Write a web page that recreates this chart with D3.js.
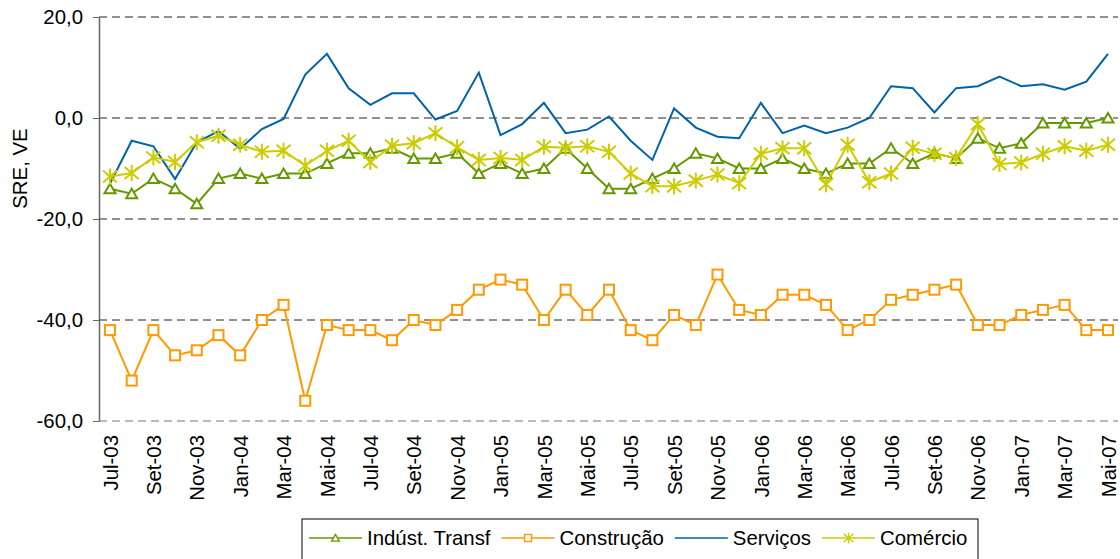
<!DOCTYPE html>
<html>
<head>
<meta charset="utf-8">
<script src="https://cdn.jsdelivr.net/npm/d3@7"></script>
<style>
  body { margin: 0; background: #fff; }
  svg text { font-family: "Liberation Sans", Arial, sans-serif; font-size: 20.4px; fill: #000; }
</style>
</head>
<body>
<div id="chart"></div>
<script>
// Monthly categories, Jul-03 .. Mai-07
var months = ['Jul-03','Ago-03','Set-03','Out-03','Nov-03','Dez-03',
  'Jan-04','Fev-04','Mar-04','Abr-04','Mai-04','Jun-04','Jul-04','Ago-04','Set-04','Out-04','Nov-04','Dez-04',
  'Jan-05','Fev-05','Mar-05','Abr-05','Mai-05','Jun-05','Jul-05','Ago-05','Set-05','Out-05','Nov-05','Dez-05',
  'Jan-06','Fev-06','Mar-06','Abr-06','Mai-06','Jun-06','Jul-06','Ago-06','Set-06','Out-06','Nov-06','Dez-06',
  'Jan-07','Fev-07','Mar-07','Abr-07','Mai-07'];

var industria = [-14,-15,-12,-14,-17,-12,-11,-12,-11,-11,-9,-7,-7,-6,-8,-8,
  -7,-11,-9,-11,-10,-6,-10,-14,-14,-12,-10,-7,-8,-10,-10,-8,
  -10,-11,-9,-9,-6,-9,-7,-8,-4,-6,-5,-1,-1,-1,0];

var construcao = [-42,-52,-42,-47,-46,-43,-47,-40,-37,-56,-41,-42,-42,-44,-40,-41,
  -38,-34,-32,-33,-40,-34,-39,-34,-42,-44,-39,-41,-31,-38,-39,-35,
  -35,-37,-42,-40,-36,-35,-34,-33,-41,-41,-39,-38,-37,-42,-42];

var servicos = [-13,-4.5,-5.6,-12.1,-4.8,-2.6,-6.1,-2.2,-0.2,8.6,12.7,5.9,2.6,4.9,4.9,-0.3,
  1.4,9.0,-3.4,-1.2,3.0,-3.0,-2.3,0.3,-4.5,-8.3,1.9,-1.9,-3.7,-4.0,3.0,-3.0,
  -1.5,-3.0,-1.9,0,6.3,5.9,1.1,5.9,6.3,8.2,6.3,6.7,5.6,7.2,12.7];

var comercio = [-11.6,-10.9,-7.8,-8.7,-4.8,-3.5,-5.3,-6.7,-6.5,-9.4,-6.5,-4.5,-8.7,-5.5,-5.0,-3.0,
  -5.8,-8.3,-7.9,-8.3,-5.7,-5.9,-5.6,-6.7,-11.0,-13.5,-13.5,-12.4,-11.2,-12.9,-7.1,-6.0,
  -6.0,-13.1,-5.3,-12.7,-11.0,-5.9,-7.1,-7.9,-1.2,-9.1,-8.8,-7.1,-5.6,-6.5,-5.3];

var yTicks = [-60,-40,-20,0,20];
var seriesNames = ['Indúst. Transf','Construção','Serviços','Comércio'];

var series = [
  {name: seriesNames[0], values: industria, color: '#669900', marker: 'triangle'},
  {name: seriesNames[1], values: construcao, color: '#ff9900', marker: 'square'},
  {name: seriesNames[2], values: servicos, color: '#0063a6', marker: 'none'},
  {name: seriesNames[3], values: comercio, color: '#cccc00', marker: 'star'}
];

var W = 1120, H = 559;
var svg = d3.select('#chart').append('svg')
  .attr('width', W).attr('height', H);

var x = d3.scalePoint().domain(months).range([110, 1108]);
var y = d3.scaleLinear().domain([-60, 20]).range([421, 17]);

// Portuguese style: comma decimal, plain hyphen minus
var fmt = function(d) { return d.toFixed(1).replace('.', ','); };

// Gridlines
svg.append('g').selectAll('line')
  .data(yTicks)
  .enter().append('line')
  .attr('x1', 99).attr('x2', 1118)
  .attr('y1', function(d) { return y(d); })
  .attr('y2', function(d) { return y(d); })
  .attr('stroke', function(d) { return d === -60 ? '#777' : '#222'; })
  .attr('stroke-width', 1)
  .attr('stroke-dasharray', '8,5');

// Y axis
var yAxis = d3.axisLeft(y).tickValues(yTicks).tickFormat(fmt)
  .tickSizeInner(6).tickSizeOuter(0).tickPadding(10);
var gy = svg.append('g').attr('transform', 'translate(99,0)').call(yAxis);
gy.attr('font-size', null).attr('font-family', null);
gy.select('.domain').attr('stroke', '#666').attr('stroke-width', 1.5);
gy.selectAll('.tick line').attr('stroke', '#666');

svg.append('text')
  .attr('transform', 'translate(20,' + y(-10) + ') rotate(-90)')
  .attr('text-anchor', 'middle')
  .attr('dy', '0.35em')
  .text('SRE, VE');

// X axis (labels every two months)
var xAxis = d3.axisBottom(x)
  .tickValues(months.filter(function(d, i) { return i % 2 === 0; }))
  .tickSize(0);
var gx = svg.append('g').attr('transform', 'translate(0,' + 428 + ')').call(xAxis);
gx.attr('font-size', null).attr('font-family', null);
gx.select('.domain').remove();
gx.selectAll('text')
  .attr('text-anchor', 'end')
  .attr('transform', 'rotate(-90)')
  .attr('x', -7).attr('y', 0).attr('dy', '0.35em');

// Marker drawing helper
function drawMarker(sel, type, color) {
  if (type === 'triangle') {
    sel.append('path').attr('d', 'M0,-5L5.5,4.5L-5.5,4.5Z')
      .attr('fill', '#fff').attr('stroke', color).attr('stroke-width', 2);
  } else if (type === 'square') {
    sel.append('rect').attr('x', -5).attr('y', -5).attr('width', 10).attr('height', 10)
      .attr('fill', '#fff').attr('stroke', color).attr('stroke-width', 2);
  } else if (type === 'star') {
    sel.append('path').attr('d', 'M0,-8L0,8M-7,-6L7,6M-7,6L7,-6')
      .attr('fill', 'none').attr('stroke', color).attr('stroke-width', 2);
  }
}

var line = d3.line()
  .x(function(d, i) { return x(months[i]); })
  .y(function(d) { return y(d); });

series.forEach(function(s) {
  var g = svg.append('g');
  g.append('path')
    .attr('d', line(s.values))
    .attr('fill', 'none')
    .attr('stroke', s.color)
    .attr('stroke-width', 2);
  if (s.marker !== 'none') {
    g.selectAll('.m').data(s.values).enter().append('g')
      .attr('class', 'm')
      .attr('transform', function(d, i) { return 'translate(' + x(months[i]) + ',' + y(d) + ')'; })
      .each(function() { drawMarker(d3.select(this), s.marker, s.color); });
  }
});

// Legend (box runs off the bottom edge, as in the original)
var legend = svg.append('g');
legend.append('rect')
  .attr('x', 302).attr('y', 519).attr('width', 676).attr('height', 60)
  .attr('fill', '#fff').attr('stroke', '#000').attr('stroke-width', 1);

var lx = 309, ly = 538;
series.forEach(function(s) {
  var item = legend.append('g');
  item.append('line').attr('x1', lx).attr('x2', lx + 53)
    .attr('y1', ly).attr('y2', ly)
    .attr('stroke', s.color).attr('stroke-width', 1.5);
  var mk = item.append('g').attr('transform', 'translate(' + (lx + 26.5) + ',' + ly + ') scale(0.7)');
  drawMarker(mk, s.marker, s.color);
  var t = item.append('text')
    .attr('x', lx + 58).attr('y', ly).attr('dy', '0.35em')
    .text(s.name);
  lx = lx + 58 + t.node().getComputedTextLength() + 11;
});
</script>
</body>
</html>
